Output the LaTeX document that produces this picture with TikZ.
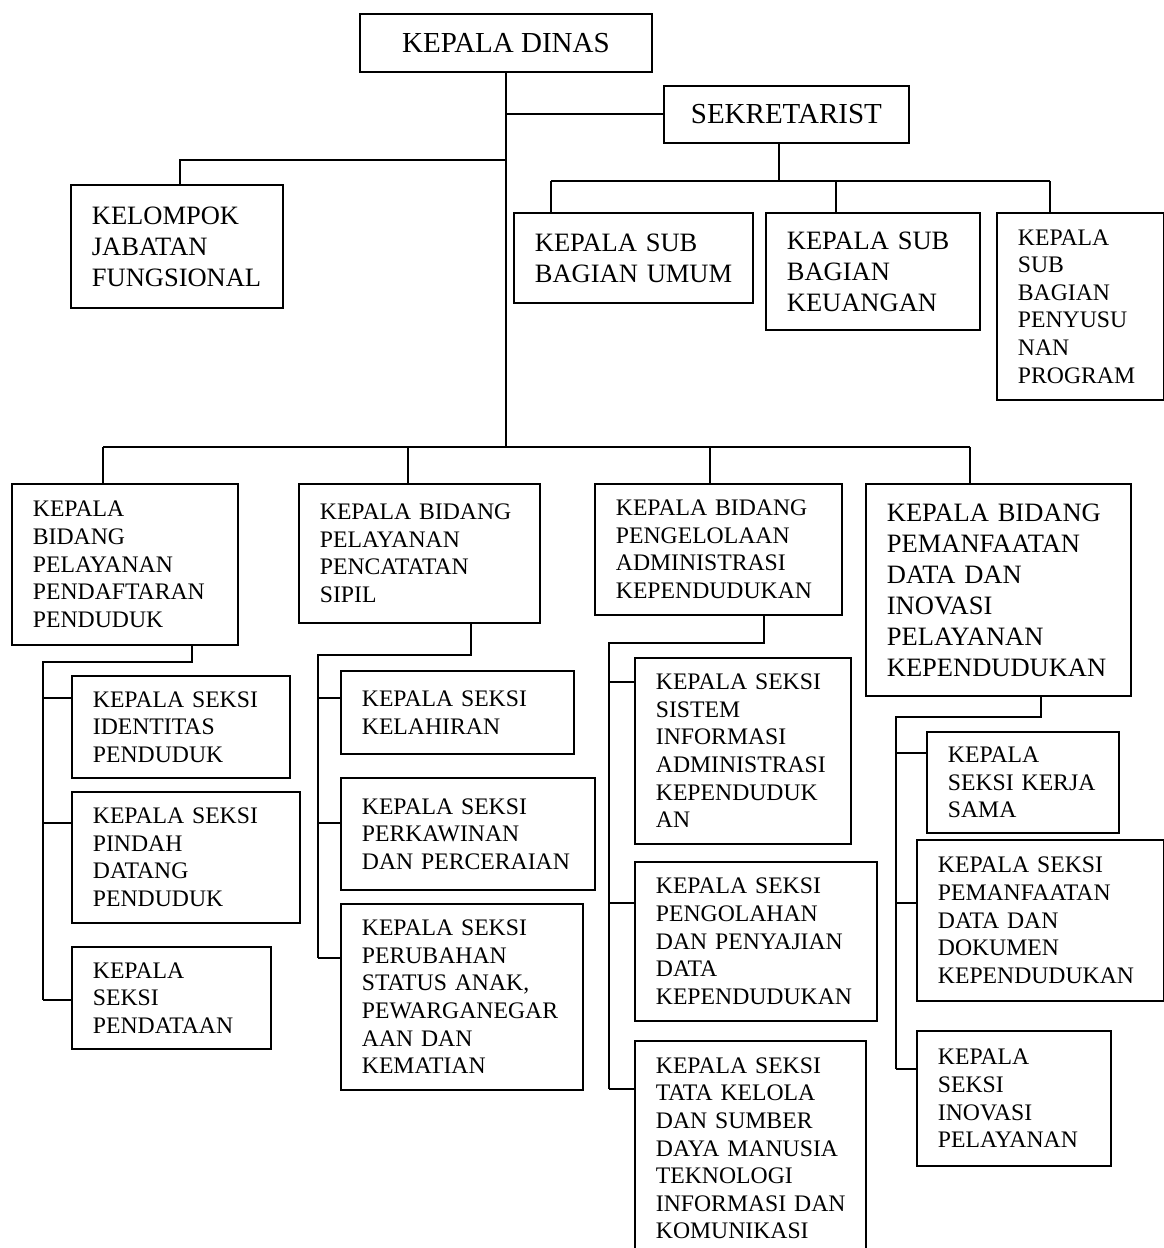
\documentclass[tikz,border=0pt]{standalone}
\usepackage{fontspec}
\setmainfont{Liberation Serif}

\tikzset{
  unit/.style={draw, line width=1.8pt, anchor=north west, align=left, inner xsep=21pt, inner ysep=0pt, font=\fontsize{23.7}{27.6}\selectfont},
  unitmid/.style={unit, font=\fontsize{26.5}{31}\selectfont},
  unittop/.style={draw, line width=1.8pt, anchor=north west, align=center, inner sep=0pt, font=\fontsize{29}{33}\selectfont},
  link/.style={line width=1.8pt}
}

\begin{document}
\begin{tikzpicture}[x=1pt, y=-1pt]
  \useasboundingbox (0,0) rectangle (1164,1248);
  \clip (0,0) rectangle (1164,1248);

  % pimpinan dan sekretariat
  \node[unittop, minimum width=292pt, minimum height=58pt] (kadis) at (359,13) {KEPALA DINAS};
  \node[unittop, minimum width=245pt, minimum height=57pt] (sekr) at (663,85) {SEKRETARIST};
  \node[unitmid, text width=170pt, minimum height=123pt] (kelompok) at (70,184) {KELOMPOK\\JABATAN\\FUNGSIONAL};
  \node[unitmid, text width=197pt, minimum height=90pt] (umum) at (513,212) {KEPALA~SUB\\BAGIAN~UMUM};
  \node[unitmid, text width=172pt, minimum height=117pt] (keuangan) at (765,212) {KEPALA~SUB\\BAGIAN\\KEUANGAN};
  \node[unit, text width=125pt, minimum height=187pt] (penyusunan) at (996,212) {KEPALA\\SUB\\BAGIAN\\PENYUSU\\NAN\\PROGRAM};

  % bidang
  \node[unit, text width=184pt, minimum height=161pt] (pendaftaran) at (11,483) {KEPALA\\BIDANG\\PELAYANAN\\PENDAFTARAN\\PENDUDUK};
  \node[unit, text width=199pt, minimum height=139pt] (pencatatan) at (298,483) {KEPALA~BIDANG\\PELAYANAN\\PENCATATAN\\SIPIL};
  \node[unit, text width=205pt, minimum height=131pt] (pengelolaan) at (594,483) {KEPALA~BIDANG\\PENGELOLAAN\\ADMINISTRASI\\KEPENDUDUKAN};
  \node[unitmid, text width=223pt, minimum height=212pt] (pemanfaatan) at (865,483) {KEPALA~BIDANG\\PEMANFAATAN\\DATA~DAN\\INOVASI\\PELAYANAN\\KEPENDUDUKAN};

  % seksi
  \node[unit, text width=176pt, minimum height=102pt] (identitas) at (71,675) {KEPALA~SEKSI\\IDENTITAS\\PENDUDUK};
  \node[unit, text width=186pt, minimum height=131pt] (pindah) at (71,791) {KEPALA~SEKSI\\PINDAH\\DATANG\\PENDUDUK};
  \node[unit, text width=157pt, minimum height=102pt] (pendataan) at (71,946) {KEPALA\\SEKSI\\PENDATAAN};
  \node[unit, text width=191pt, minimum height=83pt] (kelahiran) at (340,670) {KEPALA~SEKSI\\KELAHIRAN};
  \node[unit, text width=212pt, minimum height=112pt] (perkawinan) at (340,777) {KEPALA~SEKSI\\PERKAWINAN\\DAN~PERCERAIAN};
  \node[unit, text width=200pt, minimum height=186pt] (perubahan) at (340,903) {KEPALA~SEKSI\\PERUBAHAN\\STATUS~ANAK,\\PEWARGANEGAR\\AAN~DAN\\KEMATIAN};
  \node[unit, text width=174pt, minimum height=186pt] (sistem) at (634,657) {KEPALA~SEKSI\\SISTEM\\INFORMASI\\ADMINISTRASI\\KEPENDUDUK\\AN};
  \node[unit, text width=200pt, minimum height=159pt] (pengolahan) at (634,861) {KEPALA~SEKSI\\PENGOLAHAN\\DAN~PENYAJIAN\\DATA\\KEPENDUDUKAN};
  \node[unit, text width=189pt, minimum height=215pt] (tatakelola) at (634,1040) {KEPALA~SEKSI\\TATA~KELOLA\\DAN~SUMBER\\DAYA~MANUSIA\\TEKNOLOGI\\INFORMASI~DAN\\KOMUNIKASI};
  \node[unit, text width=150pt, minimum height=101pt] (kerjasama) at (926,731) {KEPALA\\SEKSI~KERJA\\SAMA};
  \node[unit, text width=205pt, minimum height=161pt] (pemdata) at (916,839) {KEPALA~SEKSI\\PEMANFAATAN\\DATA~DAN\\DOKUMEN\\KEPENDUDUKAN};
  \node[unit, text width=152pt, minimum height=135pt] (inovasi) at (916,1030) {KEPALA\\SEKSI\\INOVASI\\PELAYANAN};

  % garis utama
  \coordinate (bb1) at (103,447);
  \coordinate (bb2) at (408,447);
  \coordinate (bb3) at (710,447);
  \coordinate (bb4) at (970,447);
  \draw[link] (kadis.south) -- (kadis.south |- bb1);
  \draw[link] (bb1) -- (bb4);
  \foreach \c/\n in {bb1/pendaftaran, bb2/pencatatan, bb3/pengelolaan, bb4/pemanfaatan}
    \draw[link] (\c) -- (\c |- \n.north);
  \coordinate (sk) at (505,114);
  \draw[link] (sk) -- (sk -| sekr.west);
  \coordinate (kj) at (180,160);
  \draw[link] (kadis.south |- kj) -- (kj) -- (kj |- kelompok.north);

  % sub bagian
  \coordinate (sb0) at (779,181);
  \coordinate (sb1) at (551,181);
  \coordinate (sb2) at (836,181);
  \coordinate (sb3) at (1050,181);
  \draw[link] (sb0 |- sekr.south) -- (sb0);
  \draw[link] (sb1) -- (sb3);
  \foreach \c/\n in {sb1/umum, sb2/keuangan, sb3/penyusunan}
    \draw[link] (\c) -- (\c |- \n.north);

  % seksi per bidang
  \coordinate (d1) at (192,662);  \coordinate (sp1) at (43,662);
  \coordinate (d2) at (471,655);  \coordinate (sp2) at (318,655);
  \coordinate (d3) at (764,643);  \coordinate (sp3) at (609,643);
  \coordinate (d4) at (1041,717); \coordinate (sp4) at (896,717);
  \draw[link, line join=miter] (d1 |- pendaftaran.south) -- (d1) -- (sp1) -- (sp1 |- 0,1000);
  \draw[link, line join=miter] (d2 |- pencatatan.south) -- (d2) -- (sp2) -- (sp2 |- 0,958);
  \draw[link, line join=miter] (d3 |- pengelolaan.south) -- (d3) -- (sp3) -- (sp3 |- 0,1089);
  \draw[link, line join=miter] (d4 |- pemanfaatan.south) -- (d4) -- (sp4) -- (sp4 |- 0,1069);
  \foreach \y/\n in {698/identitas, 823/pindah, 1000/pendataan}
    \draw[link] (sp1 |- 0,\y) -- (\n.west |- 0,\y);
  \foreach \y/\n in {698/kelahiran, 823/perkawinan, 958/perubahan}
    \draw[link] (sp2 |- 0,\y) -- (\n.west |- 0,\y);
  \foreach \y/\n in {682/sistem, 903/pengolahan, 1089/tatakelola}
    \draw[link] (sp3 |- 0,\y) -- (\n.west |- 0,\y);
  \foreach \y/\n in {753/kerjasama, 903/pemdata, 1069/inovasi}
    \draw[link] (sp4 |- 0,\y) -- (\n.west |- 0,\y);
\end{tikzpicture}
\end{document}
